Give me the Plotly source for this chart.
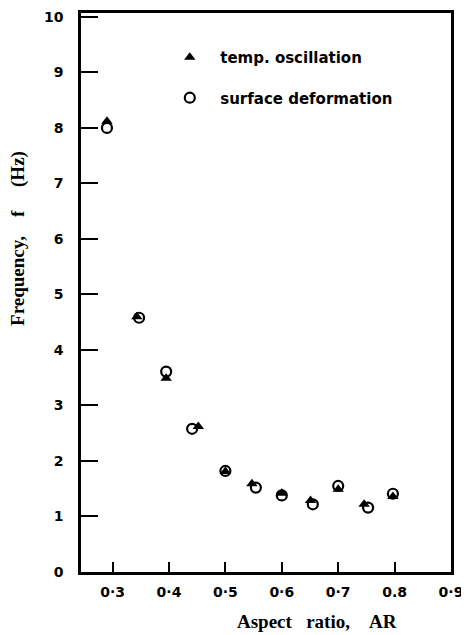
import plotly.graph_objects as go

# Data
ar_temp = [0.29, 0.343, 0.395, 0.452, 0.50, 0.547, 0.60, 0.651, 0.70, 0.746, 0.797]
f_temp = [8.12, 4.60, 3.49, 2.62, 1.81, 1.59, 1.42, 1.29, 1.49, 1.22, 1.36]

ar_surf = [0.29, 0.347, 0.395, 0.441, 0.50, 0.554, 0.60, 0.655, 0.70, 0.753, 0.797]
f_surf = [8.00, 4.58, 3.61, 2.58, 1.82, 1.52, 1.38, 1.22, 1.55, 1.16, 1.41]

x_ticks = [0.3, 0.4, 0.5, 0.6, 0.7, 0.8, 0.9]
x_ticktext = ["0·3", "0·4", "0·5", "0·6", "0·7", "0.8", "0·9"]
y_ticks = [0, 1, 2, 3, 4, 5, 6, 7, 8, 9, 10]

fig = go.Figure()
fig.add_trace(go.Scatter(
    x=ar_temp, y=f_temp, mode="markers", name="\u00a0\u00a0temp. oscillation",
    legendgroup="a",
    marker=dict(symbol="triangle-up", size=10, color="black"),
))
fig.add_trace(go.Scatter(
    x=ar_surf, y=f_surf, mode="markers", name="\u00a0\u00a0surface deformation",
    legendgroup="b",
    marker=dict(symbol="circle-open", size=10, color="black", line=dict(width=2.2)),
))

axis_common = dict(
    showgrid=False, zeroline=False, showline=True, linecolor="black", linewidth=2.5,
    mirror=True, ticks="inside", tickcolor="black", tickwidth=2,
    tickfont=dict(family="DejaVu Sans", size=14, color="black", weight="bold"),
)

fig.update_xaxes(range=[0.244, 0.9], tickvals=x_ticks, ticktext=x_ticktext,
                 ticklen=10, ticklabelstandoff=5, **axis_common)
fig.update_yaxes(range=[0, 10.07], tickvals=y_ticks, ticklen=17,
                 ticklabelstandoff=12, **axis_common)

fig.add_annotation(text="Aspect\u00a0\u00a0\u00a0ratio,\u00a0\u00a0\u00a0\u00a0AR", xref="paper", yref="paper",
                   x=0.638, y=-0.089, xanchor="center", yanchor="middle", showarrow=False,
                   font=dict(family="Liberation Serif", size=19, color="black", weight="bold"))
fig.add_annotation(text="Frequency,\u00a0\u00a0\u00a0\u00a0f\u00a0\u00a0\u00a0\u00a0\u00a0(Hz)", xref="paper", yref="paper",
                   x=-0.170, y=0.596, xanchor="center", yanchor="middle", showarrow=False, textangle=-90,
                   font=dict(family="Liberation Serif", size=19, color="black", weight="bold"))

# page body has an 8px default margin, so the figure is sized to fit the window
fig.update_layout(
    width=461, height=627,
    margin=dict(l=73, r=18, t=2, b=63),
    plot_bgcolor="white", paper_bgcolor="white",
    showlegend=True,
    legend=dict(x=0.24, y=0.950, xanchor="left", yanchor="top",
                bgcolor="rgba(0,0,0,0)", tracegroupgap=18,
                font=dict(family="DejaVu Sans", size=15, color="black", weight="bold")),
)

fig.write_html("out.html")
